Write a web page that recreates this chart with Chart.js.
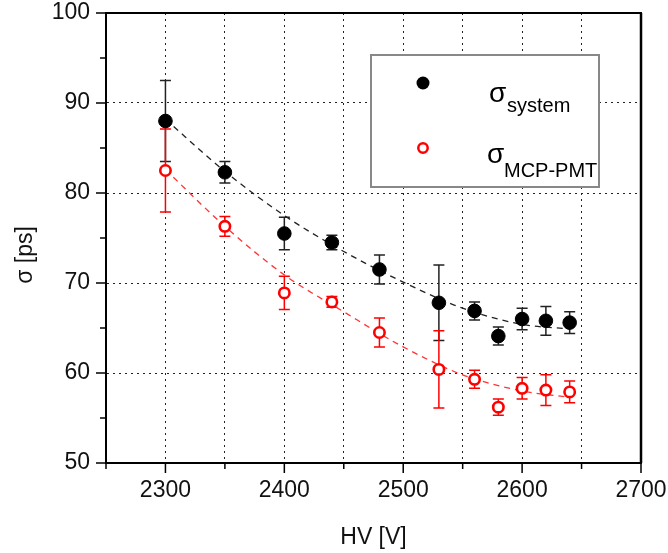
<!DOCTYPE html>
<html>
<head>
<meta charset="utf-8">
<script src="https://cdn.jsdelivr.net/npm/chart.js@4.4.0/dist/chart.umd.min.js"></script>
<style>
html, body { margin: 0; padding: 0; background: #fff; }
</style>
</head>
<body>
<canvas id="chart" width="668" height="553"></canvas>
<script>
// measured points (HV in volts, sigma in ps)
const hv = [2300, 2350, 2400, 2440, 2480, 2530, 2560, 2580, 2600, 2620, 2640];
const sigmaSystem = [88.0, 82.3, 75.5, 74.5, 71.5, 67.8, 66.9, 64.1, 66.0, 65.8, 65.6];
const errSystem = [4.5, 1.2, 1.8, 0.8, 1.6, 4.2, 1.0, 1.0, 1.2, 1.6, 1.2];
const sigmaMcp = [82.5, 76.3, 68.9, 67.9, 64.5, 60.4, 59.3, 56.2, 58.3, 58.1, 57.9];
const errMcp = [4.6, 1.1, 1.85, 0.6, 1.6, 4.3, 1.0, 0.9, 1.2, 1.7, 1.2];

// dashed fit curves
const fitHv = [2300, 2350, 2400, 2450, 2500, 2550, 2600, 2640];
const fitSystem = [88.2, 82.4, 77.5, 73.5, 70.1, 67.2, 65.4, 64.9];
const fitMcp = [82.6, 76.3, 70.9, 66.8, 62.9, 59.8, 58.0, 57.3];

const minorY = [55, 65, 75, 85, 95];
const legendLabels = [['σ', 'system'], ['σ', 'MCP-PMT']];
const yTitle = 'σ [ps]';

const FONT = 'Liberation Sans, Arial, sans-serif';
const RED = '#ff0000';

const toXY = (xs, ys) => xs.map((x, i) => ({ x: x, y: ys[i] }));

// error bars, drawn through the scales
const errorBars = {
  id: 'errorBars',
  beforeDatasetsDraw(chart) {
    const ctx = chart.ctx;
    const xs = chart.scales.x, ys = chart.scales.y;
    const sets = [
      { vals: sigmaSystem, err: errSystem, color: '#222' },
      { vals: sigmaMcp, err: errMcp, color: RED }
    ];
    ctx.save();
    ctx.lineWidth = 1.5;
    sets.forEach(s => {
      ctx.strokeStyle = s.color;
      hv.forEach((h, i) => {
        const px = xs.getPixelForValue(h);
        const top = ys.getPixelForValue(s.vals[i] + s.err[i]);
        const bot = ys.getPixelForValue(s.vals[i] - s.err[i]);
        ctx.beginPath();
        ctx.moveTo(px, top); ctx.lineTo(px, bot);
        ctx.moveTo(px - 5.5, top); ctx.lineTo(px + 5.5, top);
        ctx.moveTo(px - 5.5, bot); ctx.lineTo(px + 5.5, bot);
        ctx.stroke();
      });
    });
    ctx.restore();
  }
};

// top/right frame, outside tick marks, y title
const frame = {
  id: 'frame',
  afterDraw(chart) {
    const ctx = chart.ctx;
    const a = chart.chartArea;
    const xs = chart.scales.x, ys = chart.scales.y;
    ctx.save();
    ctx.strokeStyle = '#000';
    ctx.lineWidth = 2;
    ctx.beginPath();
    ctx.moveTo(a.left, a.top); ctx.lineTo(a.right + 1, a.top);
    ctx.stroke();
    ctx.lineWidth = 2.5;
    ctx.beginPath();
    ctx.moveTo(a.right, a.top); ctx.lineTo(a.right, a.bottom);
    ctx.stroke();

    ctx.lineWidth = 1.5;
    ctx.beginPath();
    xs.ticks.forEach(t => {
      const px = xs.getPixelForValue(t.value);
      const len = t.value % 100 === 0 ? 10 : 6;
      ctx.moveTo(px, a.bottom); ctx.lineTo(px, a.bottom + len);
    });
    ys.ticks.forEach(t => {
      const py = ys.getPixelForValue(t.value);
      ctx.moveTo(a.left, py); ctx.lineTo(a.left - 10, py);
    });
    minorY.forEach(v => {
      const py = ys.getPixelForValue(v);
      ctx.moveTo(a.left, py); ctx.lineTo(a.left - 6, py);
    });
    ctx.stroke();

    ctx.translate(26, a.top + 242);
    ctx.rotate(-Math.PI / 2);
    ctx.fillStyle = '#111';
    ctx.font = '23px ' + FONT;
    ctx.textAlign = 'center';
    ctx.textBaseline = 'middle';
    ctx.fillText(yTitle, 0, 0);
    ctx.restore();
  }
};

// legend box with subscripted labels
const sigmaLegend = {
  id: 'sigmaLegend',
  afterDraw(chart) {
    const ctx = chart.ctx;
    const a = chart.chartArea;
    const bx = a.left + 265, by = a.top + 42, bw = 228, bh = 132;
    ctx.save();
    ctx.fillStyle = '#fff';
    ctx.fillRect(bx, by, bw, bh);
    ctx.strokeStyle = '#888';
    ctx.lineWidth = 2;
    ctx.strokeRect(bx, by, bw, bh);

    // markers
    ctx.beginPath();
    ctx.arc(bx + 52, by + 28, 6.5, 0, Math.PI * 2);
    ctx.fillStyle = '#000';
    ctx.fill();
    ctx.beginPath();
    ctx.arc(bx + 52, by + 93, 4.7, 0, Math.PI * 2);
    ctx.strokeStyle = RED;
    ctx.lineWidth = 2.5;
    ctx.stroke();

    ctx.fillStyle = '#000';
    ctx.textBaseline = 'alphabetic';
    ctx.textAlign = 'left';
    ctx.font = '28px ' + FONT;
    ctx.fillText(legendLabels[0][0], bx + 118, by + 47);
    ctx.fillText(legendLabels[1][0], bx + 116, by + 108);
    ctx.font = '20px ' + FONT;
    ctx.fillText(legendLabels[0][1], bx + 136, by + 57);
    ctx.fillText(legendLabels[1][1], bx + 133, by + 122);
    ctx.restore();
  }
};

const hideEdges = (lo, hi) => c => {
  const v = c.tick ? c.tick.value : null;
  return (v === lo || v === hi) ? 'rgba(0,0,0,0)' : '#222';
};

new Chart(document.getElementById('chart'), {
  type: 'scatter',
  data: {
    datasets: [
      {
        label: 'system',
        data: toXY(hv, sigmaSystem),
        pointRadius: 6.8,
        pointHoverRadius: 6.8,
        backgroundColor: '#000',
        borderColor: '#000',
        borderWidth: 1,
        order: 0
      },
      {
        label: 'MCP-PMT',
        data: toXY(hv, sigmaMcp),
        pointRadius: 5.2,
        pointHoverRadius: 5.2,
        backgroundColor: '#fff',
        borderColor: RED,
        borderWidth: 2.6,
        order: 0
      },
      {
        label: 'fit system',
        data: toXY(fitHv, fitSystem),
        showLine: true,
        pointRadius: 0,
        borderColor: '#222',
        borderWidth: 1.3,
        borderDash: [6, 5],
        cubicInterpolationMode: 'monotone',
        order: 2
      },
      {
        label: 'fit MCP-PMT',
        data: toXY(fitHv, fitMcp),
        showLine: true,
        pointRadius: 0,
        borderColor: '#ff3333',
        borderWidth: 1.3,
        borderDash: [6, 5],
        cubicInterpolationMode: 'monotone',
        order: 2
      }
    ]
  },
  options: {
    responsive: false,
    animation: false,
    layout: { padding: { left: 0, top: 13, right: 27, bottom: 0 } },
    plugins: {
      legend: { display: false },
      tooltip: { enabled: false }
    },
    scales: {
      x: {
        type: 'linear',
        min: 2250,
        max: 2700,
        afterFit: s => { s.height = 90; s.paddingLeft = 0; s.paddingRight = 0; },
        ticks: {
          stepSize: 50,
          autoSkip: false,
          maxRotation: 0,
          padding: 14,
          color: '#111',
          font: { family: FONT, size: 23 },
          callback: v => (v % 100 === 0 ? v : '')
        },
        grid: { drawTicks: false, lineWidth: 1, color: hideEdges(2250, 2700) },
        border: { display: true, color: '#000', width: 2, dash: [2, 4] },
        title: {
          display: true,
          text: 'HV [V]',
          color: '#111',
          font: { family: FONT, size: 23 },
          padding: 2
        }
      },
      y: {
        min: 50,
        max: 100,
        afterFit: s => { s.width = 106; s.paddingTop = 0; s.paddingBottom = 0; },
        ticks: {
          stepSize: 10,
          padding: 16,
          color: '#111',
          font: { family: FONT, size: 23 }
        },
        grid: { drawTicks: false, lineWidth: 1, color: hideEdges(50, 100) },
        border: { display: true, color: '#000', width: 2, dash: [2, 4] }
      }
    }
  },
  plugins: [errorBars, frame, sigmaLegend]
});
</script>
</body>
</html>
